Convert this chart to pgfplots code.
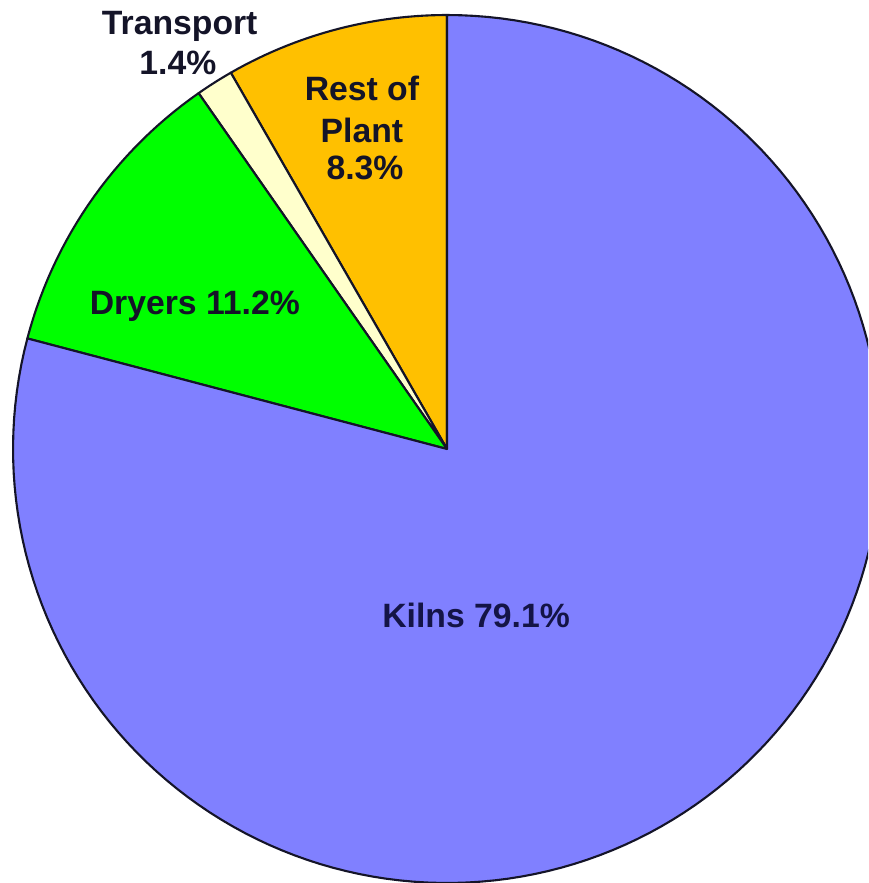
\documentclass[border=0pt]{standalone}
\usepackage{pgfplots}
\usepackage{pgfplotstable}
\pgfplotsset{compat=1.18}
\usepackage{fontspec}
\setmainfont{Liberation Sans}
\definecolor{kilnc}{RGB}{128,128,255}
\definecolor{dryc}{RGB}{0,255,0}
\definecolor{transc}{RGB}{255,255,204}
\definecolor{restc}{RGB}{255,192,0}
\definecolor{txt}{RGB}{20,20,40}
\tikzset{lbl/.style={font=\fontsize{9.6}{11.4}\selectfont\bfseries, text=txt, inner sep=0pt}}
\pgfplotstableread{
name pct
Rest 8.3
Transport 1.4
Dryers 11.2
Kilns 79.1
}\piedata
\pgfplotstablegetelem{0}{pct}\of\piedata \let\pA\pgfplotsretval
\pgfplotstablegetelem{1}{pct}\of\piedata \let\pB\pgfplotsretval
\pgfplotstablegetelem{2}{pct}\of\piedata \let\pC\pgfplotsretval
\pgfplotstablegetelem{3}{pct}\of\piedata \let\pD\pgfplotsretval
\pgfmathsetmacro\aA{90}
\pgfmathsetmacro\aB{\aA+3.6*\pA}
\pgfmathsetmacro\aC{\aB+3.6*\pB}
\pgfmathsetmacro\aD{\aC+3.6*\pC}
\pgfmathsetmacro\aE{\aD+3.6*\pD}
\begin{document}
\begin{tikzpicture}
\begin{axis}[
  scale only axis,
  width=8.68cm, height=8.83cm,
  xmin=-1.0300, xmax=0.9700,
  ymin=-1.0, ymax=1.0346,
  axis lines=box,
  axis line style={draw=none},
  xtick=\empty, ytick=\empty,
  clip=true,
]
\addplot[draw=txt, line width=0.6pt, line join=round, fill=restc, domain=\aA:\aB, samples=30, variable=\t]
  ({cos(t)},{sin(t)}) -- (0,0) -- cycle;
\addplot[draw=txt, line width=0.6pt, line join=round, fill=transc, domain=\aB:\aC, samples=8, variable=\t]
  ({cos(t)},{sin(t)}) -- (0,0) -- cycle;
\addplot[draw=txt, line width=0.6pt, line join=round, fill=dryc, domain=\aC:\aD, samples=30, variable=\t]
  ({cos(t)},{sin(t)}) -- (0,0) -- cycle;
\addplot[draw=txt, line width=0.6pt, line join=round, fill=kilnc, domain=\aD:\aE, samples=160, variable=\t]
  ({cos(t)},{sin(t)}) -- (0,0) -- cycle;
\node[lbl, anchor=base] at (axis cs:-0.616,0.954) {Transport};
\node[lbl, anchor=base] at (axis cs:-0.620,0.862) {1.4\%};
\node[lbl, anchor=base] at (axis cs:-0.196,0.804) {Rest of};
\node[lbl, anchor=base] at (axis cs:-0.196,0.707) {Plant};
\node[lbl, anchor=base] at (axis cs:-0.189,0.620) {8.3\%};
\node[lbl, anchor=base] at (axis cs:-0.581,0.309) {Dryers 11.2\%};
\node[lbl, anchor=base, text={rgb,255:red,20;green,20;blue,70}] at (axis cs:0.067,-0.412) {Kilns 79.1\%};
\end{axis}
\end{tikzpicture}
\end{document}
